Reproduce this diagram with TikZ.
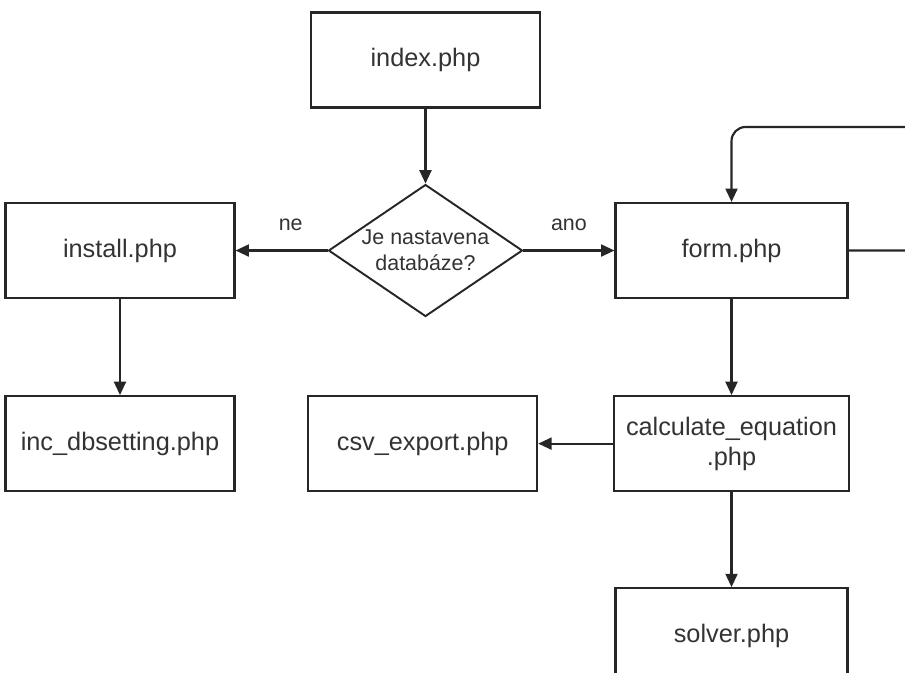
\documentclass[tikz,border=0pt]{standalone}
\usepackage{fontspec}
\setmainfont{Liberation Sans}
\usepackage{tikz}
\usetikzlibrary{shapes.geometric,positioning,arrows.meta}
\colorlet{linegray}{black!85}
\colorlet{textgray}{black!80}

\begin{document}
\begin{tikzpicture}[file/.style={rectangle, draw=linegray, line width=0.6pt, minimum width=2.29cm, minimum height=0.95cm, align=center, text=textgray, font=\fontsize{7.2}{8.6}\selectfont}, decision/.style={diamond, draw=linegray, line width=0.55pt, aspect=1.47, minimum width=1.94cm, minimum height=1.32cm, inner sep=0pt, align=center, text=textgray, font=\fontsize{6.1}{7.3}\selectfont}, flow/.style={-{Triangle[length=3.8pt,width=3.4pt]}, draw=linegray, line width=0.6pt}, answer/.style={text=textgray, font=\fontsize{6.1}{7.3}\selectfont, above=2pt}]

\useasboundingbox (0,0) rectangle (9.05,-6.73);

% FILES

\node [file] (index) at (4.255,-0.60) {index.php};

\node [decision, below=0.75cm of index] (dbcheck) {Je nastavena\\databáze?};

\node [file, left=0.92cm of dbcheck] (install) {install.php};
\node [file, right=0.91cm of dbcheck, minimum width=2.32cm] (form) {form.php};

\node [file, below=0.96cm of install] (dbsetting) {inc\_dbsetting.php};
\node [file, below=0.96cm of form, minimum width=2.32cm] (calculate) {calculate\_equation\\.php};
\node [file, left=0.75cm of calculate] (export) {csv\_export.php};

\node [file, below=0.95cm of calculate, minimum width=2.32cm] (solver) {solver.php};

\coordinate (loopback) at (9.5,-1.27);

% ARROWS

\draw [flow] (index) -- (dbcheck);
\draw [flow] (dbcheck.west) -- node [answer, pos=0.4] {ne} (install.east);
\draw [flow] (dbcheck.east) -- node [answer] {ano} (form.west);
\draw [flow] (install) -- (dbsetting);
\draw [flow] (form) -- (calculate);
\draw [flow] (calculate) -- (export);
\draw [flow] (calculate) -- (solver);
\draw [flow, rounded corners=0.14cm] (form.east) -| (loopback) -| (form.north);

\end{tikzpicture}
\end{document}
